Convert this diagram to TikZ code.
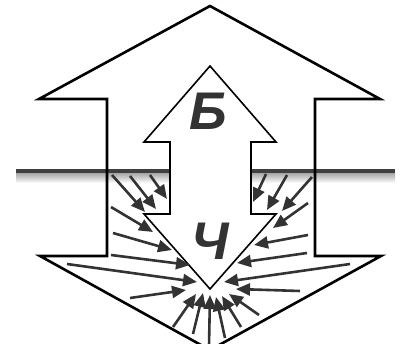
\documentclass[tikz,border=0pt]{standalone}
\usepackage{fontspec}
\setmainfont{Liberation Sans}
\usetikzlibrary{arrows.meta}
\definecolor{ink}{HTML}{333333}
\begin{document}
\begin{tikzpicture}[x=1pt,y=-1pt,
 outer/.style={draw=black,line width=2.6pt,line join=miter},
 inner/.style={draw=black,line width=1.6pt,fill=white,line join=miter},
 ray/.style={draw=ink,line width=2.6pt,-{Triangle[length=14pt,width=12pt]}},
 letter/.style={text=ink,font=\fontsize{53}{53}\selectfont\bfseries\itshape,inner sep=0pt}]
\useasboundingbox (0,0) rectangle (404,344);
\clip (0,0) rectangle (404,344);
% ground line with shadow
\shade[top color=black!35,bottom color=white] (16,173) rectangle (395,183);
\draw[line width=4pt,color=black!75] (16,171) -- (395,171);
% outer double arrow
\draw[outer] (210,6) -- (39,99) -- (107,99) -- (107,256) -- (40,256) -- (210,350)
  -- (381,256) -- (315,256) -- (315,99) -- (380,99) -- cycle;
% inner double arrow
\draw[inner] (210,66) -- (144,142) -- (170,142) -- (170,214) -- (144,214) -- (210,289)
  -- (276,214) -- (251,214) -- (251,142) -- (276,142) -- cycle;
% rays, left
\draw[ray] (150,175) -- (167,199);
\draw[ray] (130,176) -- (156,209);
\draw[ray] (112,175) -- (145,212);
\draw[ray] (111,207) -- (153,232);
\draw[ray] (113,233) -- (172,250);
\draw[ray] (111,255) -- (190,265);
\draw[ray] (67,264) -- (197,282);
\draw[ray] (130,298) -- (186,290);
\draw[ray] (173,327) -- (196,294);
\draw[ray] (193,334) -- (203,293);
\draw[ray] (209,346) -- (210,295);
% rays, right
\draw[ray] (266,174) -- (253,202);
\draw[ray] (287,175) -- (267,210);
\draw[ray] (312,177) -- (282,211);
\draw[ray] (308,203) -- (273,228);
\draw[ray] (308,235) -- (254,245);
\draw[ray] (307,253) -- (237,263);
\draw[ray] (350,264) -- (224,282);
\draw[ray] (300,291) -- (236,289);
\draw[ray] (259,315) -- (229,294);
\draw[ray] (241,327) -- (222,296);
\draw[ray] (225,338) -- (216,297);
% letters
\node[letter] (b) at (208,111) {Б};
\node[letter] (ch) at (210,241) {Ч};
\end{tikzpicture}
\end{document}
